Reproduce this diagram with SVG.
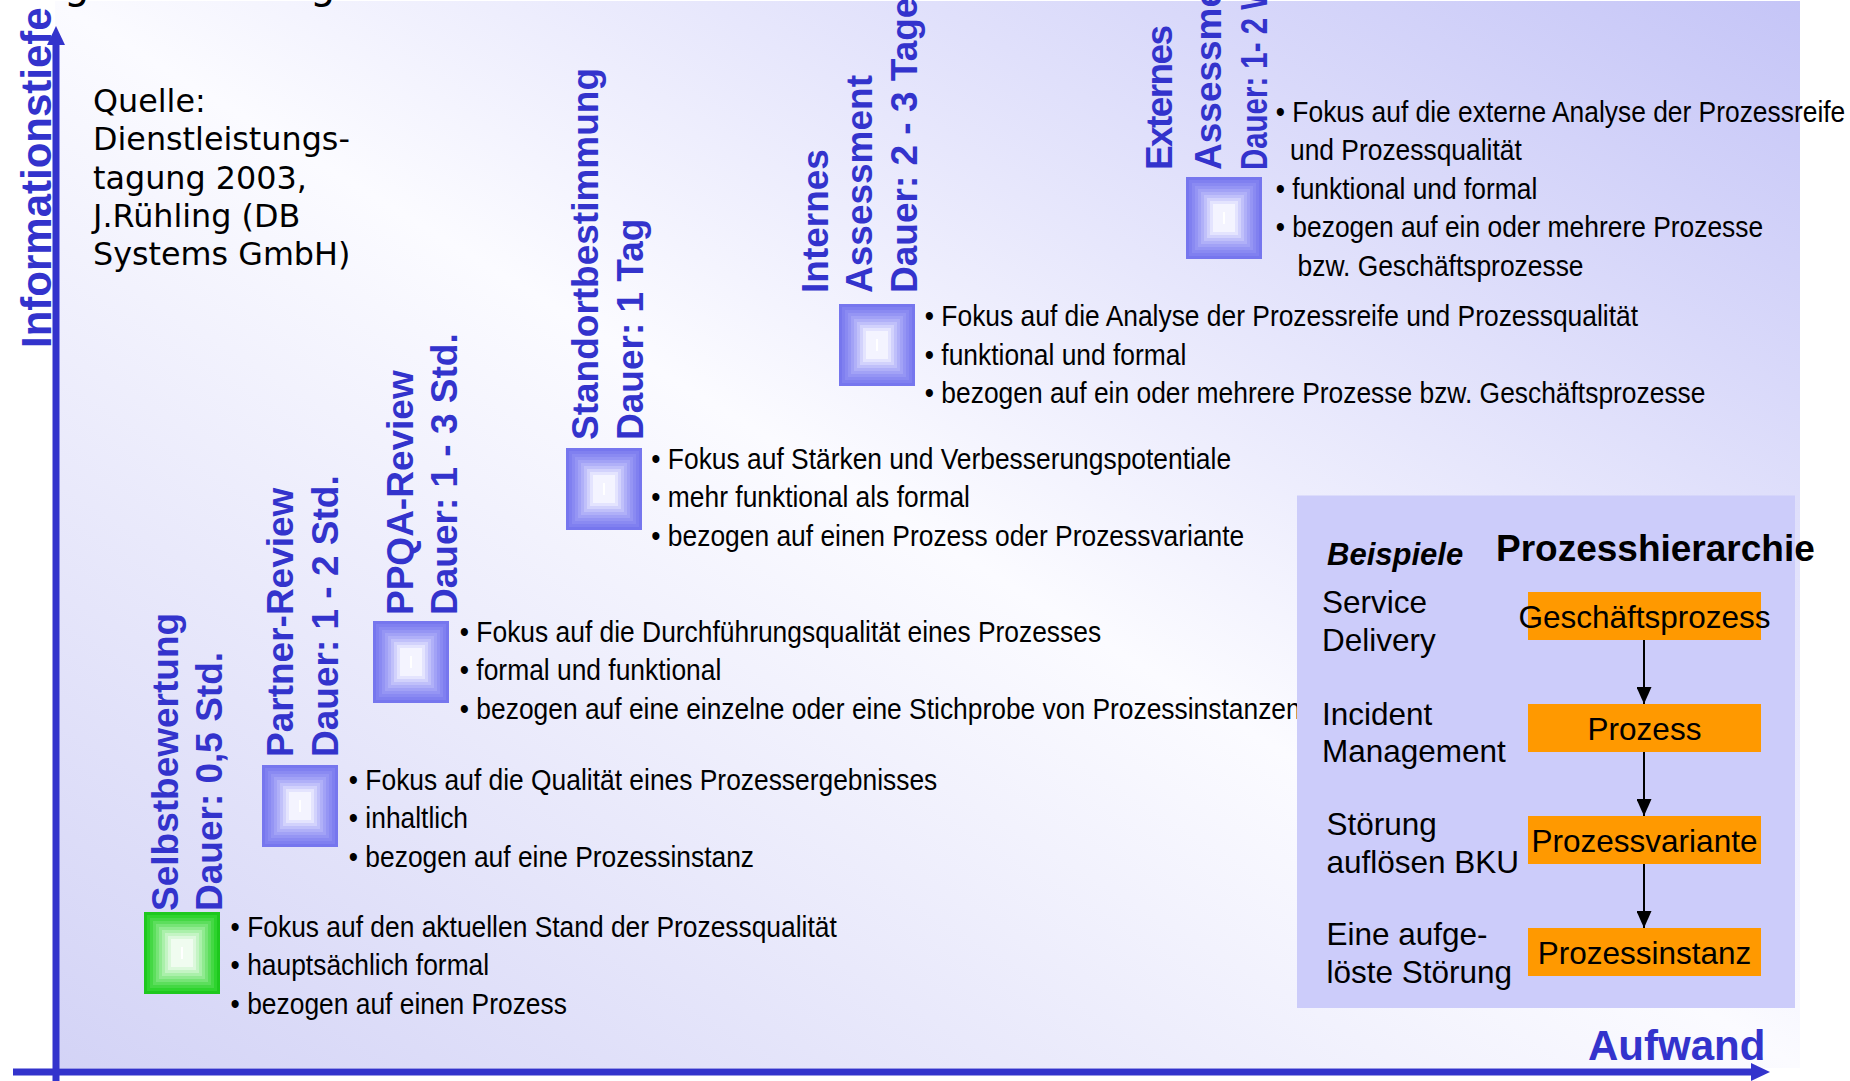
<svg xmlns="http://www.w3.org/2000/svg" xmlns:xlink="http://www.w3.org/1999/xlink" width="1850" height="1081" viewBox="0 0 1850 1081">
  <style>
    .axis { stroke: #3333cc; stroke-width: 7; fill: none; }
    .axis-label { font-family: "Liberation Sans", Arial, sans-serif; font-weight: bold; fill: #3333cc; }
    .label { font-family: "Liberation Sans", Arial, sans-serif; font-weight: bold; font-size: 37px; fill: #3333cc; }
    .note { font-family: "Liberation Sans", Arial, sans-serif; font-size: 29px; fill: #000; }
    .source { font-family: "DejaVu Sans", Verdana, sans-serif; font-size: 31.8px; fill: #000; }
    .panel-text { font-family: "Liberation Sans", Arial, sans-serif; font-size: 31.5px; fill: #000; }
    .level { fill: #ff9900; }
    .link { stroke: #000; stroke-width: 2; fill: none; }
  </style>
  <defs>
    <linearGradient id="bg" x1="0" y1="1" x2="1" y2="0">
      <stop offset="0" stop-color="#d3d3f6"/>
      <stop offset="0.5" stop-color="#fbfbff"/>
      <stop offset="1" stop-color="#c5c5f7"/>
    </linearGradient>
    <marker id="axisHead" viewBox="0 0 19 18" refX="0" refY="9" markerWidth="19" markerHeight="18" markerUnits="userSpaceOnUse" orient="auto">
      <path d="M0,0 L19,9 L0,18 z" fill="#3333cc"/>
    </marker>
    <marker id="linkHead" viewBox="0 0 17 15" refX="17" refY="7.5" markerWidth="17" markerHeight="15" markerUnits="userSpaceOnUse" orient="auto">
      <path d="M0,0 L17,7.5 L0,15 z" fill="#000"/>
    </marker>
    <!-- stepped square marker, blue -->
    <g id="sq-blue">
      <rect x="0" y="0" width="76" height="82" fill="#7676ee"/>
      <rect x="3" y="3" width="70" height="76" fill="#8080f0"/>
      <rect x="6" y="6" width="64" height="70" fill="#8a8af2"/>
      <rect x="9" y="9" width="58" height="64" fill="#9595f4"/>
      <rect x="12" y="12" width="52" height="58" fill="#a2a2f6"/>
      <rect x="15" y="15" width="46" height="52" fill="#b0b0f8"/>
      <rect x="18" y="18" width="40" height="46" fill="#c0c0fa"/>
      <rect x="21" y="21" width="34" height="40" fill="#d2d2fc"/>
      <rect x="24" y="24" width="28" height="34" fill="#e4e4fe"/>
      <rect x="27" y="27" width="22" height="28" fill="#f4f4ff"/>
      <rect x="37" y="35" width="2" height="12" fill="#ffffff"/>
    </g>
    <!-- stepped square marker, green -->
    <g id="sq-green">
      <rect x="0" y="0" width="76" height="82" fill="#1ec81e"/>
      <rect x="3" y="3" width="70" height="76" fill="#2ed42e"/>
      <rect x="6" y="6" width="64" height="70" fill="#44d844"/>
      <rect x="9" y="9" width="58" height="64" fill="#5cde5c"/>
      <rect x="12" y="12" width="52" height="58" fill="#76e476"/>
      <rect x="15" y="15" width="46" height="52" fill="#90ea90"/>
      <rect x="18" y="18" width="40" height="46" fill="#aaf0aa"/>
      <rect x="21" y="21" width="34" height="40" fill="#c4f4c4"/>
      <rect x="24" y="24" width="28" height="34" fill="#dcf8dc"/>
      <rect x="27" y="27" width="22" height="28" fill="#f0fcf0"/>
      <rect x="37" y="35" width="2" height="12" fill="#ffffff"/>
    </g>
  </defs>

  <!-- canvas -->
  <rect x="0" y="0" width="1850" height="1081" fill="#ffffff"/>
  <rect x="55" y="1" width="1745" height="1067" fill="url(#bg)"/>

  <!-- heading, cut at the top edge -->
  <g id="heading" font-family="DejaVu Sans, Verdana, sans-serif" font-size="40" fill="#000">
    <text x="64" y="-2">g</text>
    <text x="310" y="-2">g</text>
  </g>

  <!-- axes -->
  <g id="axes">
    <line class="axis" x1="56" y1="1081" x2="56" y2="45" marker-end="url(#axisHead)"/>
    <line class="axis" x1="13" y1="1072" x2="1751" y2="1072" marker-end="url(#axisHead)"/>
    <text class="axis-label" font-size="42" transform="translate(51,348) rotate(-90)">Informationstiefe</text>
    <text class="axis-label" font-size="42" x="1588" y="1060">Aufwand</text>
  </g>

  <!-- source note -->
  <g id="source">
    <text class="source">
      <tspan x="93" y="112">Quelle:</tspan>
      <tspan x="93" y="150.3">Dienstleistungs-</tspan>
      <tspan x="93" y="188.6">tagung 2003,</tspan>
      <tspan x="93" y="226.9">J.Rühling (DB</tspan>
      <tspan x="93" y="265.2">Systems GmbH)</tspan>
    </text>
  </g>

  <!-- review types -->
  <g id="selbstbewertung">
    <use xlink:href="#sq-green" x="144" y="912"/>
    <text class="label" transform="translate(178,911) rotate(-90)">Selbstbewertung</text>
    <text class="label" transform="translate(221.5,911) rotate(-90)">Dauer: 0,5 Std.</text>
    <g transform="translate(230.6,937) scale(0.91,1)">
      <text class="note">
        <tspan x="0" y="0">• Fokus auf den aktuellen Stand der Prozessqualität</tspan>
        <tspan x="0" y="38.3">• hauptsächlich formal</tspan>
        <tspan x="0" y="76.6">• bezogen auf einen Prozess</tspan>
      </text>
    </g>
  </g>

  <g id="partner-review">
    <use xlink:href="#sq-blue" x="262" y="765"/>
    <text class="label" transform="translate(293,757) rotate(-90)">Partner-Review</text>
    <text class="label" transform="translate(338,757) rotate(-90)">Dauer: 1 - 2 Std.</text>
    <g transform="translate(348.8,790) scale(0.91,1)">
      <text class="note">
        <tspan x="0" y="0">• Fokus auf die Qualität eines Prozessergebnisses</tspan>
        <tspan x="0" y="38.3">• inhaltlich</tspan>
        <tspan x="0" y="76.6">• bezogen auf eine Prozessinstanz</tspan>
      </text>
    </g>
  </g>

  <g id="ppqa-review">
    <use xlink:href="#sq-blue" x="373" y="621"/>
    <text class="label" transform="translate(412.5,615) rotate(-90)">PPQA-Review</text>
    <text class="label" transform="translate(457,615) rotate(-90)">Dauer: 1 - 3 Std.</text>
    <g transform="translate(459.8,642) scale(0.91,1)">
      <text class="note">
        <tspan x="0" y="0">• Fokus auf die Durchführungsqualität eines Prozesses</tspan>
        <tspan x="0" y="38.3">• formal und funktional</tspan>
        <tspan x="0" y="76.6">• bezogen auf eine einzelne oder eine Stichprobe von Prozessinstanzen</tspan>
      </text>
    </g>
  </g>

  <g id="standortbestimmung">
    <use xlink:href="#sq-blue" x="566" y="448"/>
    <text class="label" transform="translate(598,440) rotate(-90)">Standortbestimmung</text>
    <text class="label" transform="translate(643,440) rotate(-90)">Dauer: 1 Tag</text>
    <g transform="translate(651.3,469) scale(0.91,1)">
      <text class="note">
        <tspan x="0" y="0">• Fokus auf Stärken und Verbesserungspotentiale</tspan>
        <tspan x="0" y="38.3">• mehr funktional als formal</tspan>
        <tspan x="0" y="76.6">• bezogen auf einen Prozess oder Prozessvariante</tspan>
      </text>
    </g>
  </g>

  <g id="internes-assessment">
    <use xlink:href="#sq-blue" x="839" y="304"/>
    <text class="label" transform="translate(828,293) rotate(-90)">Internes</text>
    <text class="label" transform="translate(872,293) rotate(-90)">Assessment</text>
    <text class="label" transform="translate(917,293) rotate(-90)">Dauer: 2 - 3 Tage</text>
    <g transform="translate(924.8,326) scale(0.91,1)">
      <text class="note">
        <tspan x="0" y="0">• Fokus auf die Analyse der Prozessreife und Prozessqualität</tspan>
        <tspan x="0" y="38.7">• funktional und formal</tspan>
        <tspan x="0" y="77.4">• bezogen auf ein oder mehrere Prozesse bzw. Geschäftsprozesse</tspan>
      </text>
    </g>
  </g>

  <g id="externes-assessment">
    <use xlink:href="#sq-blue" x="1186" y="177"/>
    <text class="label" transform="translate(1172,170) rotate(-90)" textLength="145" lengthAdjust="spacing">Externes</text>
    <text class="label" transform="translate(1221,170) rotate(-90)">Assessment</text>
    <text class="label" transform="translate(1267,170) rotate(-90)" textLength="188" lengthAdjust="spacingAndGlyphs">Dauer: 1- 2 W</text>
    <g transform="translate(1275.8,122) scale(0.91,1)">
      <text class="note">
        <tspan x="0" y="0">• Fokus auf die externe Analyse der Prozessreife</tspan>
        <tspan x="15.6" y="38.5">und Prozessqualität</tspan>
        <tspan x="0" y="77">• funktional und formal</tspan>
        <tspan x="0" y="115.5">• bezogen auf ein oder mehrere Prozesse</tspan>
        <tspan x="23.9" y="154">bzw. Geschäftsprozesse</tspan>
      </text>
    </g>
  </g>

  <!-- process hierarchy panel -->
  <g id="hierarchy-panel">
    <rect x="1297" y="495.5" width="498" height="512.5" fill="#ccccfa"/>
    <text font-family="Liberation Sans, Arial, sans-serif" font-weight="bold" font-style="italic" font-size="31" x="1327" y="564.5">Beispiele</text>
    <text font-family="Liberation Sans, Arial, sans-serif" font-weight="bold" font-size="37" x="1496" y="561">Prozesshierarchie</text>
    <text class="panel-text">
      <tspan x="1322" y="612.6">Service</tspan>
      <tspan x="1322" y="650.5">Delivery</tspan>
    </text>
    <text class="panel-text">
      <tspan x="1322" y="724.5">Incident</tspan>
      <tspan x="1322" y="762.4">Management</tspan>
    </text>
    <text class="panel-text">
      <tspan x="1326.5" y="834.7">Störung</tspan>
      <tspan x="1326.5" y="873">auflösen BKU</tspan>
    </text>
    <text class="panel-text">
      <tspan x="1326.5" y="944.9">Eine aufge-</tspan>
      <tspan x="1326.5" y="982.8">löste Störung</tspan>
    </text>
  </g>

  <g id="level-geschaeftsprozess">
    <rect class="level" x="1528" y="592" width="233" height="48"/>
    <text class="panel-text" x="1644.5" y="628" text-anchor="middle">Geschäftsprozess</text>
  </g>
  <g id="level-prozess">
    <rect class="level" x="1528" y="704" width="233" height="48"/>
    <text class="panel-text" x="1644.5" y="740" text-anchor="middle">Prozess</text>
  </g>
  <g id="level-prozessvariante">
    <rect class="level" x="1528" y="816" width="233" height="48"/>
    <text class="panel-text" x="1644.5" y="852" text-anchor="middle">Prozessvariante</text>
  </g>
  <g id="level-prozessinstanz">
    <rect class="level" x="1528" y="928" width="233" height="48"/>
    <text class="panel-text" x="1644.5" y="964" text-anchor="middle">Prozessinstanz</text>
  </g>

  <g id="connectors">
    <line class="link" x1="1644" y1="640" x2="1644" y2="704" marker-end="url(#linkHead)"/>
    <line class="link" x1="1644" y1="752" x2="1644" y2="816" marker-end="url(#linkHead)"/>
    <line class="link" x1="1644" y1="864" x2="1644" y2="928" marker-end="url(#linkHead)"/>
  </g>
</svg>
